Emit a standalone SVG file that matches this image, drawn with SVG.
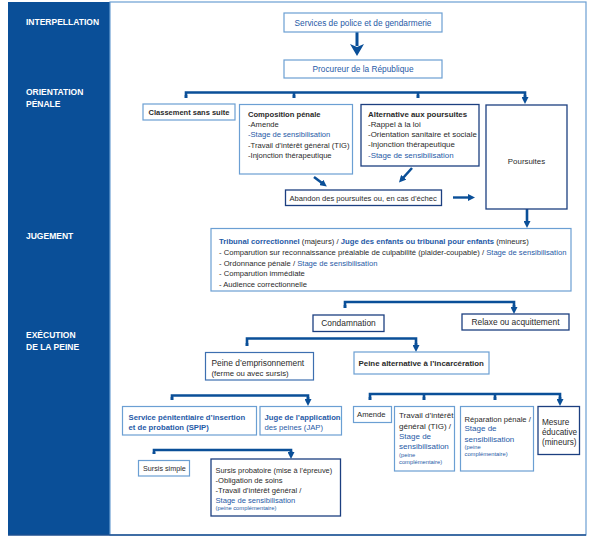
<svg xmlns="http://www.w3.org/2000/svg" width="597" height="537" viewBox="0 0 597 537">
<defs>
<style>
.lb{fill:none;stroke:#6b9fd3;stroke-width:1.2}
.db{fill:none;stroke:#1c3f80;stroke-width:1.3}
.t{font-family:"Liberation Sans",Arial,sans-serif;font-size:7.6px;fill:#2a2a2a}
.b{font-weight:bold}
.blue{fill:#1f5aa6}
.sm{font-size:5.8px}
.lab{font-family:"Liberation Sans",Arial,sans-serif;font-size:8.5px;font-weight:bold;fill:#fff}
.c{stroke:#0a4f98;stroke-width:2.6;fill:none}
</style>
<marker id="big" markerUnits="userSpaceOnUse" markerWidth="14" markerHeight="14" refX="2" refY="7" orient="auto" viewBox="0 0 14 14">
<path d="M0,0 L12,7 L0,14 L3,7 Z" fill="#0a4f98"/>
</marker>
<marker id="sm" markerUnits="userSpaceOnUse" markerWidth="7" markerHeight="7" refX="1" refY="3.5" orient="auto" viewBox="0 0 7 7">
<path d="M0,0 L7,3.5 L0,7 Z" fill="#0a4f98"/>
</marker>
</defs>
<rect x="0" y="0" width="597" height="537" fill="#fff"/>
<g id="frame">
<rect x="8" y="2" width="102" height="533" fill="#0a4f98"/>
<rect x="110" y="2" width="476" height="533" fill="none" stroke="#6b9fd3" stroke-width="1.2"/>
<line x1="8" y1="535" x2="586" y2="535" stroke="#1c4f90" stroke-width="1.5"/>
<text class="lab" x="26" y="25">INTERPELLATION</text>
<text class="lab" x="26" y="94.5">ORIENTATION</text>
<text class="lab" x="26" y="106.5">PÉNALE</text>
<text class="lab" x="26" y="238.5">JUGEMENT</text>
<text class="lab" x="26" y="337.5">EXÉCUTION</text>
<text class="lab" x="26" y="349.5">DE  LA PEINE</text>
</g>
<g id="connectors">
<line x1="357" y1="32" x2="357" y2="46" stroke="#0a4f98" stroke-width="3" marker-end="url(#big)"/>
<path class="c" d="M186,98 V92.5 H525 V98 M294,92.5 V98 M418,92.5 V98"/>
<path class="c" d="M186,95 V98 M294,95 V98 M418,95 V98 M525,95 V98" marker-end="url(#sm)"/>
<line x1="314" y1="177" x2="322" y2="183" stroke="#0a4f98" stroke-width="2.6" marker-end="url(#sm)"/>
<line x1="412" y1="168" x2="403" y2="178" stroke="#0a4f98" stroke-width="2.6" marker-end="url(#sm)"/>
<line x1="453" y1="197.5" x2="469" y2="197.5" stroke="#0a4f98" stroke-width="2.4" marker-end="url(#sm)"/>
<line x1="527" y1="209" x2="527" y2="222" stroke="#0a4f98" stroke-width="2.6" marker-end="url(#sm)"/>
<path class="c" d="M345,308 V302 H514 V308"/>
<path class="c" d="M345,305 V308 M514,305 V308" marker-end="url(#sm)"/>
<path class="c" d="M247,346 V338.5 H416 V346"/>
<path class="c" d="M247,343 V346 M416,343 V346" marker-end="url(#sm)"/>
<path class="c" d="M172,400 V395.5 H308 V400"/>
<path class="c" d="M172,397 V400 M308,397 V400" marker-end="url(#sm)"/>
<path class="c" d="M154,454 V450 H291 V453"/>
<path class="c" d="M154,452 V454 M291,451 V453" marker-end="url(#sm)"/>
<path class="c" d="M370,400 V394 H560 V400 M424,394 V400 M495,394 V400"/>
<path class="c" d="M370,397 V400 M424,397 V400 M495,397 V400 M560,397 V400" marker-end="url(#sm)"/>
</g>
<g id="services">
<rect class="lb" x="284" y="13" width="158" height="19"/>
<text class="t blue" x="363" y="25.5" text-anchor="middle" style="font-size:8.3px">Services de police et de gendarmerie</text>
</g>
<g id="procureur">
<rect class="lb" x="284" y="60" width="158" height="18"/>
<text class="t blue" x="363" y="72" text-anchor="middle" style="font-size:8.3px">Procureur de la République</text>
</g>
<g id="classement">
<rect class="lb" x="143" y="104" width="92" height="16"/>
<text class="t b" x="189" y="114.8" text-anchor="middle" style="font-size:7.5px">Classement sans suite</text>
</g>
<g id="composition">
<rect class="lb" x="239.5" y="104.5" width="113" height="69.5"/>
<text class="t" x="248" y="116.5"><tspan class="b">Composition pénale</tspan>
<tspan x="248" y="127">-Amende</tspan>
<tspan x="248" y="137.3" class="blue">-Stage de sensibilisation</tspan>
<tspan x="248" y="147.6">-Travail d’intérêt général (TIG)</tspan>
<tspan x="248" y="158">-Injonction thérapeutique</tspan></text>
</g>
<g id="alternative">
<rect class="db" x="361" y="104.5" width="118" height="61.5"/>
<text class="t" x="368" y="116.5" style="font-size:7.9px"><tspan class="b">Alternative aux poursuites</tspan>
<tspan x="368" y="126.7">-Rappel à la loi</tspan>
<tspan x="368" y="137">-Orientation sanitaire et sociale</tspan>
<tspan x="368" y="147.3">-Injonction thérapeutique</tspan>
<tspan x="368" y="157.6" class="blue">-Stage de sensibilisation</tspan></text>
</g>
<g id="poursuites">
<rect class="db" x="486" y="105" width="81" height="104"/>
<text class="t" x="526.5" y="163.5" text-anchor="middle" style="font-size:7.9px">Poursuites</text>
</g>
<g id="abandon">
<rect class="db" x="285.5" y="190" width="156" height="15.5"/>
<text class="t" x="289.5" y="200.5">Abandon des poursuites ou, en cas d’échec</text>
</g>
<g id="tribunal">
<rect class="lb" x="211" y="228.5" width="360" height="62.5"/>
<text class="t" x="219" y="244" style="font-size:7.7px"><tspan class="b blue">Tribunal correctionnel</tspan> (majeurs) / <tspan class="b blue">Juge des enfants ou tribunal pour enfants</tspan> (mineurs)</text>
<text class="t" x="219" y="255" style="font-size:7.65px">- Comparution sur reconnaissance préalable de culpabilité (plaider-coupable) / <tspan class="blue">Stage de sensibilisation</tspan></text>
<text class="t" x="219" y="265.5" style="font-size:7.65px">- Ordonnance pénale / <tspan class="blue">Stage de sensibilisation</tspan></text>
<text class="t" x="219" y="276" style="font-size:7.65px">- Comparution immédiate</text>
<text class="t" x="219" y="286.5" style="font-size:7.65px">- Audience correctionnelle</text>
</g>
<g id="condamnation">
<rect class="db" x="313" y="315" width="71" height="16.5"/>
<text class="t" x="348.5" y="326" text-anchor="middle" style="font-size:8.4px">Condamnation</text>
</g>
<g id="relaxe">
<rect class="db" x="462" y="314" width="107" height="16"/>
<text class="t" x="515.5" y="325" text-anchor="middle" style="font-size:8.4px">Relaxe ou acquittement</text>
</g>
<g id="emprisonnement">
<rect x="205.5" y="352.5" width="108" height="27.5" fill="none" stroke="#3d6fb0" stroke-width="1.2"/>
<text class="t" x="211.5" y="365.5" style="font-size:8.4px">Peine d’emprisonnement</text>
<text class="t" x="211.5" y="376" style="font-size:7.8px">(ferme ou avec sursis)</text>
</g>
<g id="alternative-incarceration">
<rect class="lb" x="354" y="352" width="135" height="22"/>
<text class="t b" x="358.5" y="366" style="font-size:7.9px">Peine alternative à l’incarcération</text>
</g>
<g id="spip">
<rect class="lb" x="122.5" y="406.5" width="134" height="28.5"/>
<text class="t b blue" x="128.5" y="419.5" style="font-size:7.7px">Service pénitentiaire d’insertion</text>
<text class="t b blue" x="128.5" y="429.8" style="font-size:7.7px">et de probation (SPIP)</text>
</g>
<g id="jap">
<rect class="lb" x="260" y="406.5" width="81.5" height="28.5"/>
<text class="t b blue" x="264.5" y="419.5" style="font-size:7.7px">Juge de l’application</text>
<text class="t blue" x="264.5" y="429.8" style="font-size:7.7px">des peines (JAP)</text>
</g>
<g id="sursis-simple">
<rect class="lb" x="138.5" y="460.5" width="51" height="15.5"/>
<text class="t" x="143" y="471" style="font-size:7.2px">Sursis simple</text>
</g>
<g id="sursis-probatoire">
<rect class="db" x="211" y="459" width="129.5" height="57"/>
<text class="t" x="215.5" y="473" style="font-size:7.4px">Sursis probatoire (mise à l’épreuve)</text>
<text class="t" x="215.5" y="483">-Obligation de soins</text>
<text class="t" x="215.5" y="493">-Travail d’intérêt général /</text>
<text class="t blue" x="215.5" y="503">Stage de sensibilisation</text>
<text class="t blue sm" x="215.5" y="510">(peine complémentaire)</text>
</g>
<g id="amende">
<rect class="lb" x="353.5" y="406.5" width="38" height="16"/>
<text class="t" x="357" y="417.3" style="font-size:7.7px">Amende</text>
</g>
<g id="tig">
<rect class="lb" x="394.5" y="406.5" width="60" height="64.5"/>
<text class="t" x="399" y="418.3" style="font-size:8px">Travail d’intérêt</text>
<text class="t" x="399" y="428.5" style="font-size:8px">général (TIG) /</text>
<text class="t blue" x="399" y="439" style="font-size:8px">Stage de</text>
<text class="t blue" x="399" y="449" style="font-size:8px">sensibilisation</text>
<text class="t blue sm" x="399" y="457">(peine</text>
<text class="t blue sm" x="399" y="463.5">complémentaire)</text>
</g>
<g id="reparation">
<rect class="lb" x="460.5" y="406.5" width="73" height="64.5"/>
<text class="t" x="464.5" y="421.5">Réparation pénale /</text>
<text class="t blue" x="464.5" y="431.3" style="font-size:8px">Stage de</text>
<text class="t blue" x="464.5" y="441.5" style="font-size:8px">sensibilisation</text>
<text class="t blue sm" x="464.5" y="449">(peine</text>
<text class="t blue sm" x="464.5" y="456">complémentaire)</text>
</g>
<g id="mesure">
<rect class="db" x="538" y="406.5" width="41.5" height="48"/>
<text class="t" x="542" y="424.5" style="font-size:8.2px">Mesure</text>
<text class="t" x="542" y="435" style="font-size:8.2px">éducative</text>
<text class="t" x="542" y="445" style="font-size:8.2px">(mineurs)</text>
</g>
</svg>
